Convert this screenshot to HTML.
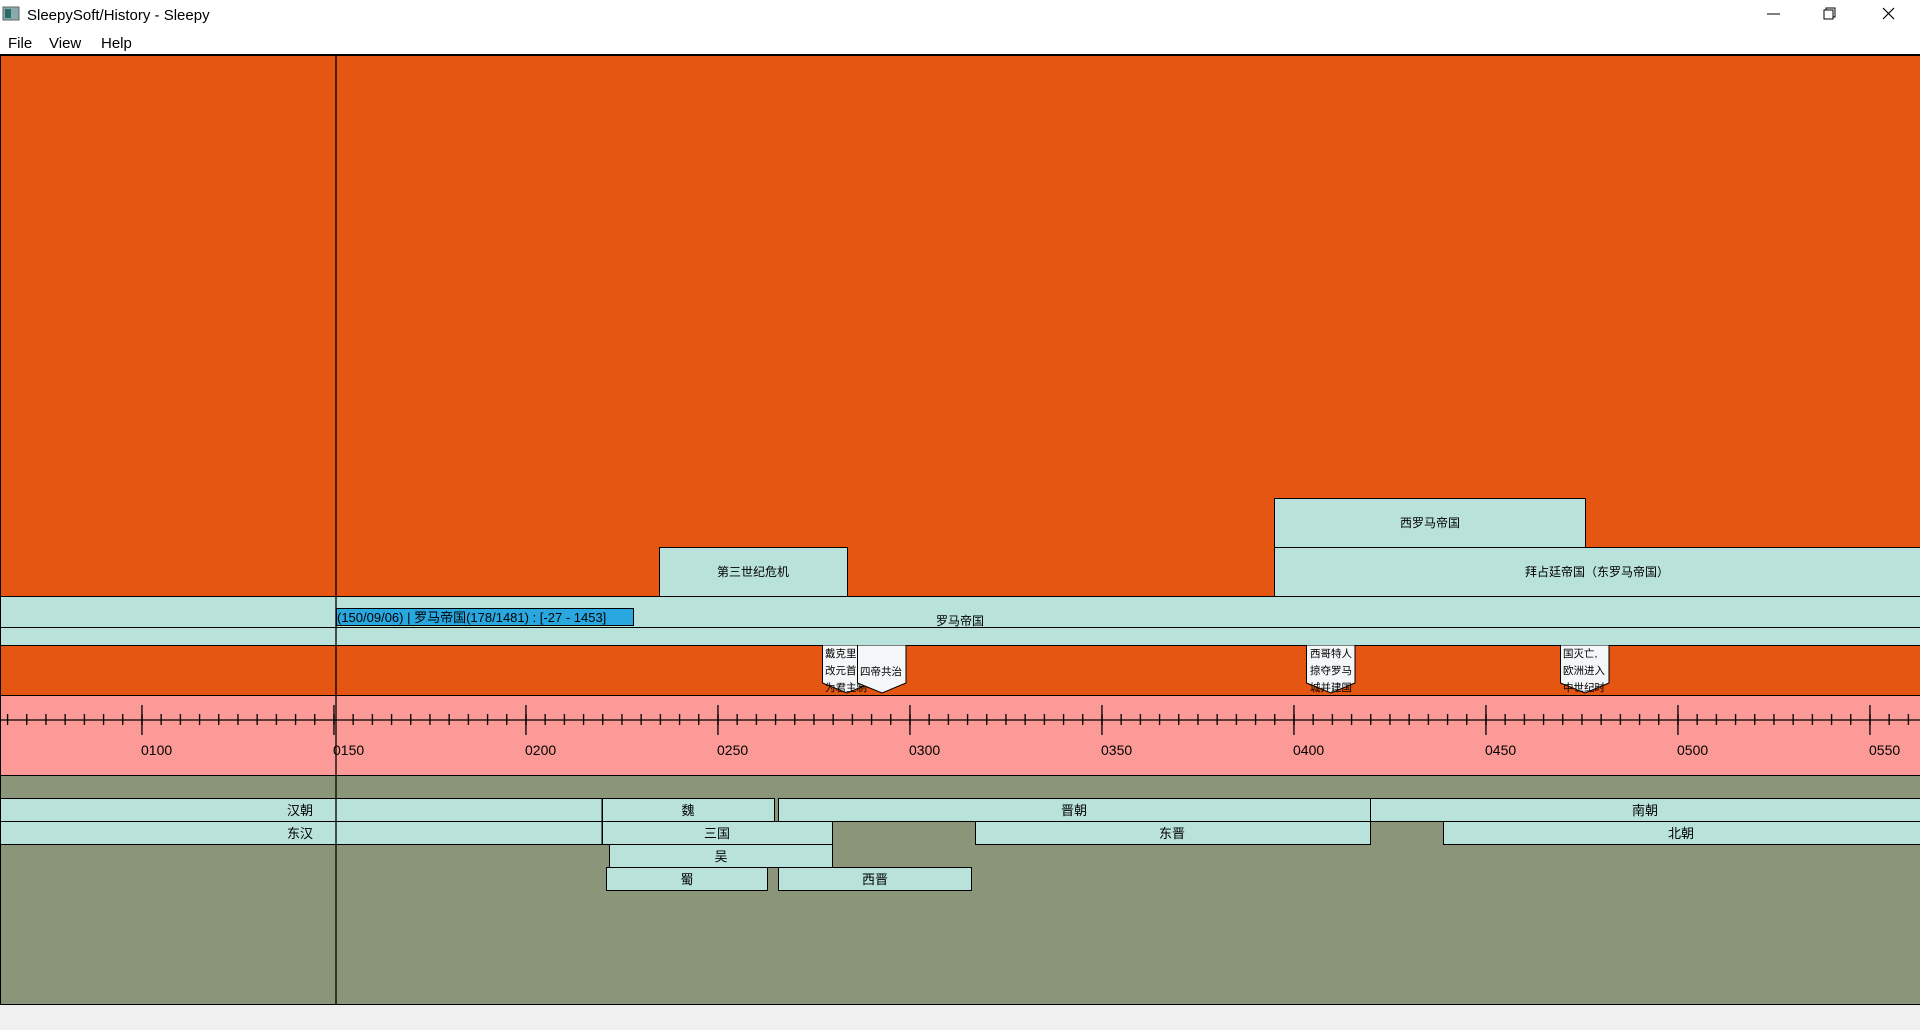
<!DOCTYPE html>
<html><head><meta charset="utf-8"><style>
html,body{margin:0;padding:0;width:1920px;height:1030px;overflow:hidden;background:#f0f0f0}
svg{display:block}
text{font-family:"Liberation Sans","Noto Sans CJK SC",sans-serif;}
</style></head><body>
<svg width="1920" height="1030" viewBox="0 0 1920 1030" xmlns="http://www.w3.org/2000/svg">
<defs>
<pattern id="minor" patternUnits="userSpaceOnUse" x="6.9" y="0" width="19.2" height="1030">
<rect x="0" y="714" width="1.3" height="11" fill="#000"/>
</pattern>
<pattern id="major" patternUnits="userSpaceOnUse" x="141.3" y="0" width="192" height="1030">
<rect x="0" y="705" width="1.3" height="30" fill="#000"/>
</pattern>
</defs>
<!-- title bar -->
<rect x="0" y="0" width="1920" height="55" fill="#fff"/>
<rect x="3" y="7" width="16" height="13" fill="#8aa" stroke="#666" stroke-width="1"/>
<rect x="5" y="9" width="6" height="9" fill="#2a6b6b"/>
<text x="27" y="20" font-size="15" fill="#000">SleepySoft/History - Sleepy</text>
<text x="8" y="48" font-size="15" fill="#000">File</text>
<text x="49" y="48" font-size="15" fill="#000">View</text>
<text x="101" y="48" font-size="15" fill="#000">Help</text>
<line x1="1767" y1="14" x2="1780" y2="14" stroke="#000" stroke-width="1"/>
<rect x="1824" y="10" width="9" height="9" fill="none" stroke="#000" stroke-width="1"/>
<path d="M1826 10 V8 H1835 V17 H1833" fill="none" stroke="#000" stroke-width="1"/>
<path d="M1883 8 L1894 19 M1894 8 L1883 19" stroke="#000" stroke-width="1.2"/>
<!-- orange top -->
<rect x="0" y="55" width="1920" height="541" fill="#e55613"/>
<line x1="0" y1="55" x2="1920" y2="55" stroke="#000" stroke-width="2"/>
<!-- bars top -->
<rect x="659.5" y="547.5" width="188" height="49" fill="#b9e3da" stroke="#000"/>
<text x="753" y="576" font-size="12" text-anchor="middle">第三世纪危机</text>
<rect x="1274.5" y="498.5" width="311" height="49" fill="#b9e3da" stroke="#000"/>
<text x="1430" y="527" font-size="12" text-anchor="middle">西罗马帝国</text>
<rect x="1274.5" y="547.5" width="660" height="49" fill="#b9e3da" stroke="#000"/>
<text x="1597" y="576" font-size="12" text-anchor="middle">拜占廷帝国（东罗马帝国）</text>
<!-- roman empire -->
<rect x="0" y="596" width="1920" height="49" fill="#b9e3da"/>
<line x1="0" y1="596.5" x2="1920" y2="596.5" stroke="#000"/>
<line x1="0" y1="627.5" x2="1920" y2="627.5" stroke="#000"/>
<text x="960" y="625" font-size="12" text-anchor="middle">罗马帝国</text>
<rect x="336.5" y="608.5" width="297" height="17" fill="#29a8df" stroke="#000"/>
<text x="337" y="622" font-size="13" fill="#000">(150/09/06) | 罗马帝国(178/1481) : [-27 - 1453]</text>
<!-- events band -->
<rect x="0" y="645" width="1920" height="50" fill="#e55613"/>
<line x1="0" y1="645.5" x2="1920" y2="645.5" stroke="#000"/>
<line x1="0" y1="695.5" x2="1920" y2="695.5" stroke="#000"/>
<g font-size="10.5">
<path d="M822.5 645.5 V683 L847 693 L871 683 V645.5" fill="#f4f6f8" stroke="#000"/>
<text x="825" y="657">戴克里先</text><text x="825" y="674">改元首制</text><text x="825" y="691">为君主制</text>
<path d="M857.5 645.5 V683 L882 693 L906 683 V645.5" fill="#f4f6f8" stroke="#000"/>
<text x="881" y="675" text-anchor="middle">四帝共治</text>
<path d="M1306.5 645.5 V683 L1331 693 L1355 683 V645.5" fill="#f4f6f8" stroke="#000"/>
<text x="1310" y="657">西哥特人</text><text x="1310" y="674">掠夺罗马</text><text x="1310" y="691">城并建国</text>
<path d="M1560.5 645.5 V683 L1585 693 L1609 683 V645.5" fill="#f4f6f8" stroke="#000"/>
<text x="1563" y="657">国灭亡,</text><text x="1563" y="674">欧洲进入</text><text x="1563" y="691">中世纪时</text>
</g>
<!-- timeline -->
<rect x="0" y="696" width="1920" height="79" fill="#fb9a96"/>
<rect x="0" y="0" width="1920" height="1030" fill="url(#minor)"/>
<rect x="0" y="0" width="1920" height="1030" fill="url(#major)"/>
<line x1="0" y1="720" x2="1920" y2="720" stroke="#000" stroke-width="1.3"/>
<g font-size="14" fill="#000">
<text x="141" y="755">0100</text><text x="333" y="755">0150</text><text x="525" y="755">0200</text>
<text x="717" y="755">0250</text><text x="909" y="755">0300</text><text x="1101" y="755">0350</text>
<text x="1293" y="755">0400</text><text x="1485" y="755">0450</text><text x="1677" y="755">0500</text>
<text x="1869" y="755">0550</text>
</g>
<!-- olive -->
<rect x="0" y="775" width="1920" height="230" fill="#8a957a"/>
<line x1="0" y1="775.5" x2="1920" y2="775.5" stroke="#000"/>
<g fill="#b9e3da" stroke="#000">
<rect x="-1" y="798.5" width="603" height="23"/>
<rect x="602.5" y="798.5" width="172" height="23"/>
<rect x="778.5" y="798.5" width="592" height="23"/>
<rect x="1370.5" y="798.5" width="560" height="23"/>
<rect x="-1" y="821.5" width="603" height="23"/>
<rect x="602.5" y="821.5" width="230" height="23"/>
<rect x="975.5" y="821.5" width="395" height="23"/>
<rect x="1443.5" y="821.5" width="487" height="23"/>
<rect x="609.5" y="844.5" width="223" height="23"/>
<rect x="606.5" y="867.5" width="161" height="23"/>
<rect x="778.5" y="867.5" width="193" height="23"/>
</g>
<g font-size="13" text-anchor="middle" fill="#000">
<text x="300" y="815">汉朝</text><text x="688" y="815">魏</text><text x="1074" y="815">晋朝</text><text x="1645" y="815">南朝</text>
<text x="300" y="838">东汉</text><text x="717" y="838">三国</text><text x="1172" y="838">东晋</text><text x="1681" y="838">北朝</text>
<text x="721" y="861">吴</text><text x="687" y="884">蜀</text><text x="875" y="884">西晋</text>
</g>
<!-- outer lines -->
<line x1="0.5" y1="55" x2="0.5" y2="1005" stroke="#000"/>
<line x1="336" y1="55" x2="336" y2="1005" stroke="#000" stroke-width="1.3"/>
<line x1="0" y1="1004.5" x2="1920" y2="1004.5" stroke="#000"/>
</svg>
</body></html>
